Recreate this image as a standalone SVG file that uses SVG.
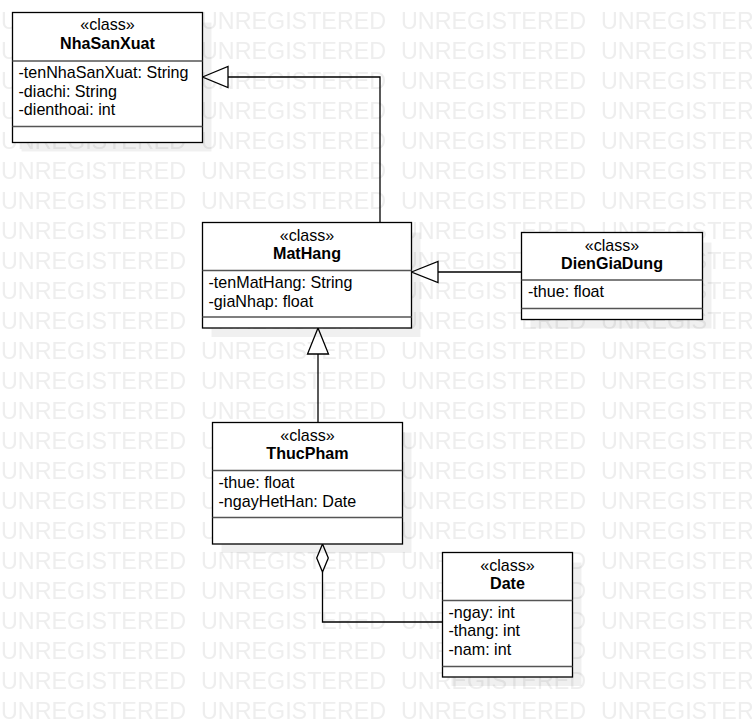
<svg xmlns="http://www.w3.org/2000/svg" width="752" height="727" viewBox="0 0 752 727">
<style>
text{font-family:"Liberation Sans",Arial,sans-serif;font-size:16.1px;fill:#000}
.wm{font-size:23.3px;fill:#eeeeee}
.c{text-anchor:middle}
.b{font-weight:bold}
.box{fill:#fff;stroke:#000;stroke-width:1.3}
.sh{fill:#000;fill-opacity:0.06}
.dv{stroke:#555;stroke-width:1.5}
.cn{fill:none;stroke:#000;stroke-width:1.3}
.hd{fill:#fff;stroke:#000;stroke-width:1.3}
</style>
<defs>
<pattern id="wmp" x="0" y="0" width="200" height="30" patternUnits="userSpaceOnUse">
<text class="wm" x="1" y="29">UNREGISTERED</text>
</pattern>
</defs>
<rect width="752" height="727" fill="#fff"/>
<rect width="752" height="727" fill="url(#wmp)"/>

<g id="connectors">
<polyline class="cn" points="380,222.5 380,77 228,77"/>
<polygon class="hd" points="202.5,77 228,66.5 228,87.5"/>
<line class="cn" x1="521.5" y1="272" x2="438" y2="272"/>
<polygon class="hd" points="411.5,272 438,261.5 438,282.5"/>
<line class="cn" x1="318" y1="422.5" x2="318" y2="354"/>
<polygon class="hd" points="318,328 307.5,354 328.5,354"/>
<polyline class="cn" points="442.5,622 322.5,622 322.5,572"/>
<polygon class="hd" points="322.5,544 316.7,558 322.5,572 328.3,558"/>
</g>

<g id="NhaSanXuat">
<rect class="sh" x="21.5" y="22.5" width="190" height="129"/>
<rect class="box" x="12.5" y="12.5" width="190" height="130"/>
<line class="dv" x1="12.5" y1="61" x2="202.5" y2="61"/>
<line class="dv" x1="12.5" y1="126.5" x2="202.5" y2="126.5"/>
<text class="c" x="107.5" y="30">«class»</text>
<text class="c b" x="107.5" y="49">NhaSanXuat</text>
<text x="18.5" y="77.7">-tenNhaSanXuat: String</text>
<text x="18.5" y="96.5">-diachi: String</text>
<text x="18.5" y="115.3">-dienthoai: int</text>
</g>

<g id="MatHang">
<rect class="sh" x="211.5" y="232.5" width="209" height="104.5"/>
<rect class="box" x="202.5" y="222.5" width="209" height="105.5"/>
<line class="dv" x1="202.5" y1="270.5" x2="411.5" y2="270.5"/>
<line class="dv" x1="202.5" y1="317" x2="411.5" y2="317"/>
<text class="c" x="307" y="241">«class»</text>
<text class="c b" x="307" y="259">MatHang</text>
<text x="208.5" y="288">-tenMatHang: String</text>
<text x="208.5" y="306.5">-giaNhap: float</text>
</g>

<g id="DienGiaDung">
<rect class="sh" x="530.5" y="242.5" width="181" height="86"/>
<rect class="box" x="521.5" y="232.5" width="181" height="87"/>
<line class="dv" x1="521.5" y1="280" x2="702.5" y2="280"/>
<line class="dv" x1="521.5" y1="308.5" x2="702.5" y2="308.5"/>
<text class="c" x="612" y="250.5">«class»</text>
<text class="c b" x="612" y="269">DienGiaDung</text>
<text x="528" y="297">-thue: float</text>
</g>

<g id="ThucPham">
<rect class="sh" x="221.5" y="432.5" width="190" height="120.5"/>
<rect class="box" x="212.5" y="422.5" width="190" height="121.5"/>
<line class="dv" x1="212.5" y1="470.5" x2="402.5" y2="470.5"/>
<line class="dv" x1="212.5" y1="517.5" x2="402.5" y2="517.5"/>
<text class="c" x="307.5" y="440.5">«class»</text>
<text class="c b" x="307.5" y="459">ThucPham</text>
<text x="218.5" y="488">-thue: float</text>
<text x="218.5" y="506.7">-ngayHetHan: Date</text>
</g>

<g id="Date">
<rect class="sh" x="451.5" y="562.5" width="130" height="123.5"/>
<rect class="box" x="442.5" y="552.5" width="130" height="124.5"/>
<line class="dv" x1="442.5" y1="600.5" x2="572.5" y2="600.5"/>
<line class="dv" x1="442.5" y1="666.5" x2="572.5" y2="666.5"/>
<text class="c" x="507.5" y="570.5">«class»</text>
<text class="c b" x="507.5" y="589">Date</text>
<text x="448.5" y="617.7">-ngay: int</text>
<text x="448.5" y="636.3">-thang: int</text>
<text x="448.5" y="655">-nam: int</text>
</g>
</svg>
